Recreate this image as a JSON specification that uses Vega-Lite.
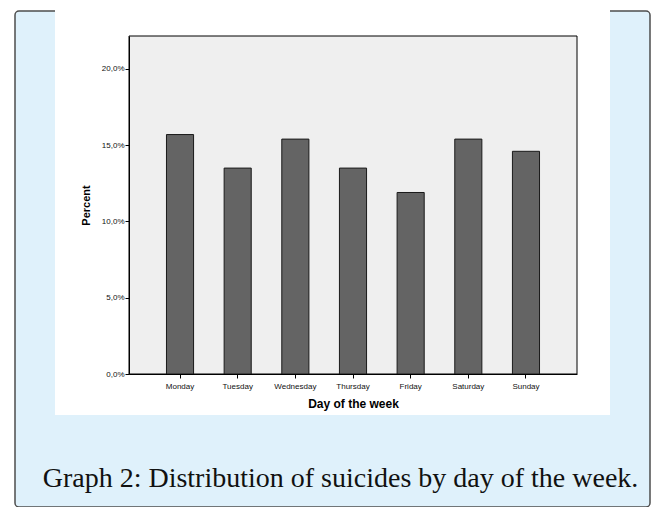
{
  "$schema": "https://vega.github.io/schema/vega-lite/v6.json",
  "autosize": {"type": "none"},
  "width": 635,
  "height": 496,
  "padding": {"left": 15, "top": 11, "right": 2, "bottom": 0},
  "background": "#ffffff",
  "view": {"fill": "#dff1fb", "stroke": "#4d4d4d", "strokeWidth": 1.5, "cornerRadius": 4},
  "title": {
    "text": "Graph 2: Distribution of suicides by day of the week.",
    "orient": "bottom",
    "anchor": "middle",
    "frame": "group",
    "offset": -20,
    "baseline": "alphabetic",
    "font": "Liberation Serif",
    "fontSize": 28,
    "fontWeight": "normal",
    "color": "#111111",
    "dx": 8
  },
  "config": {
    "axis": {
      "grid": false,
      "domainColor": "#000000",
      "domainWidth": 1,
      "tickColor": "#000000",
      "tickSize": 4,
      "labelFont": "Liberation Sans",
      "labelFontSize": 8,
      "labelColor": "#111111",
      "titleFont": "Liberation Sans",
      "titleFontWeight": "bold",
      "titleColor": "#000000"
    }
  },
  "layer": [
    {
      "data": {"values": [{"part": "panel"}]},
      "mark": {"type": "rect", "fill": "#ffffff"},
      "encoding": {
        "x": {"datum": 0, "type": "quantitative", "scale": {"domain": [0, 1], "range": [40, 595]}, "axis": null},
        "x2": {"datum": 1},
        "y": {"datum": 0, "type": "quantitative", "scale": {"domain": [0, 1], "range": [404, -11]}, "axis": null},
        "y2": {"datum": 1}
      }
    },
    {
      "data": {"values": [{"part": "plot"}]},
      "mark": {"type": "rect", "fill": "#efefef", "stroke": "#000000", "strokeWidth": 1},
      "encoding": {
        "x": {"datum": 0, "type": "quantitative", "scale": {"domain": [0, 1], "range": [114, 562]}, "axis": null},
        "x2": {"datum": 1},
        "y": {"datum": 0, "type": "quantitative", "scale": {"domain": [0, 1], "range": [363, 25]}, "axis": null},
        "y2": {"datum": 1}
      }
    },
    {
      "data": {"values": [
        {"day": "Monday", "percent": 15.7},
        {"day": "Tuesday", "percent": 13.5},
        {"day": "Wednesday", "percent": 15.4},
        {"day": "Thursday", "percent": 13.5},
        {"day": "Friday", "percent": 11.9},
        {"day": "Saturday", "percent": 15.4},
        {"day": "Sunday", "percent": 14.6}
      ]},
      "mark": {"type": "bar", "fill": "#646464", "stroke": "#1a1a1a", "strokeWidth": 1},
      "encoding": {
        "x": {
          "field": "day", "type": "nominal", "sort": null,
          "scale": {"range": [114, 562], "paddingInner": 0.53, "paddingOuter": 0.65},
          "axis": {"title": "Day of the week", "orient": "bottom", "offset": -133, "zindex": 1, "labelAngle": 0, "labelPadding": 4, "titleFontSize": 12, "titlePadding": 8}
        },
        "y": {
          "field": "percent", "type": "quantitative",
          "scale": {"domain": [0, 22.16], "range": [363, 25], "nice": false},
          "axis": {
            "title": "Percent", "orient": "left", "offset": -114, "zindex": 1, "values": [0, 5, 10, 15, 20],
            "labelExpr": "replace(format(datum.value, '.1f'), '.', ',') + '%'",
            "labelPadding": 1, "titleFontSize": 11, "titlePadding": 10
          }
        }
      }
    }
  ],
  "resolve": {"scale": {"x": "independent", "y": "independent"}}
}
